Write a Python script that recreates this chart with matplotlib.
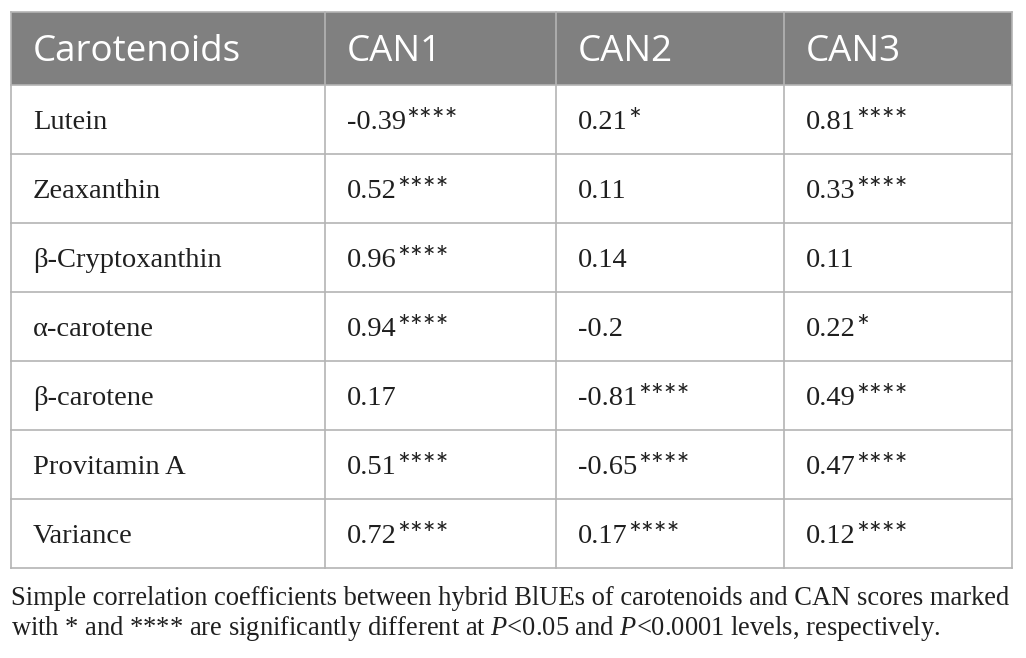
import matplotlib
matplotlib.use("Agg")
import matplotlib.pyplot as plt

plt.rcParams["mathtext.fontset"] = "custom"
plt.rcParams["mathtext.rm"] = "Liberation Serif"
plt.rcParams["mathtext.it"] = "Liberation Serif:italic"

header = ["Carotenoids", "CAN1", "CAN2", "CAN3"]
carotenoids = ["Lutein", "Zeaxanthin", "β-Cryptoxanthin", "α-carotene",
               "β-carotene", "Provitamin A", "Variance"]
can1 = ["-0.39", "0.52", "0.96", "0.94", "0.17", "0.51", "0.72"]
can1_sig = ["****", "****", "****", "****", "", "****", "****"]
can2 = ["0.21", "0.11", "0.14", "-0.2", "-0.81", "-0.65", "0.17"]
can2_sig = ["*", "", "", "", "****", "****", "****"]
can3 = ["0.81", "0.33", "0.11", "0.22", "0.49", "0.47", "0.12"]
can3_sig = ["****", "****", "", "*", "****", "****", "****"]
caption1 = "Simple correlation coefficients between hybrid BlUEs of carotenoids and CAN scores marked"
caption2 = r"with * and **** are significantly different at $\mathit{P}$<0.05 and $\mathit{P}$<0.0001 levels, respectively."

W, H = 1026, 658
fig = plt.figure(figsize=(W / 100, H / 100), dpi=100)
ax = fig.add_axes([0, 0, 1, 1])
ax.set_xlim(0, W)
ax.set_ylim(H, 0)
ax.axis("off")

left, right = 11, 1012
col_x = [left, 325, 556, 784, right]
top, head_bot = 12, 85
row_h = 69
n = len(carotenoids)
bottom = head_bot + n * row_h

grid = "#b4b4b4"
ax.add_patch(plt.Rectangle((left, top), right - left, head_bot - top,
                           facecolor="#808080", edgecolor="none", zorder=1))
for i in range(n + 1):
    y = head_bot + i * row_h
    ax.plot([left, right], [y, y], color=grid, lw=1.2, zorder=2)
ax.plot([left, right], [top, top], color=grid, lw=1.2, zorder=2)
for x in col_x:
    ax.plot([x, x], [top, bottom], color=grid, lw=1.2, zorder=2)

pad = 22
for j, h in enumerate(header):
    ax.text(col_x[j] + pad, 61, h, va="baseline", ha="left", zorder=3,
            family="Open Sans", size=26.5, color="white")

serif = "Liberation Serif"
bsize = 20.5
tcol = "#1f1f1f"
fig.canvas.draw()
r = fig.canvas.get_renderer()
inv = ax.transData.inverted()

cols = [(can1, can1_sig), (can2, can2_sig), (can3, can3_sig)]
for i in range(n):
    yb = head_bot + i * row_h + 44
    ax.text(col_x[0] + pad, yb, carotenoids[i], va="baseline", ha="left",
            family=serif, size=bsize, color=tcol, zorder=3)
    for j, (vals, sigs) in enumerate(cols):
        t = ax.text(col_x[j + 1] + pad, yb, vals[i], va="baseline", ha="left",
                    family=serif, size=bsize, color=tcol, zorder=3)
        if sigs[i]:
            bb = t.get_window_extent(renderer=r)
            x1 = inv.transform((bb.x1, bb.y1))[0]
            ax.text(x1 + 0.5, yb + 1, sigs[i], va="baseline", ha="left",
                    family="Lato", size=22, color=tcol, zorder=3)

# caption, sized to span the table width
csize = 18.5
c1 = ax.text(left, 605, caption1, va="baseline", ha="left", family=serif,
             size=csize, color=tcol)
bb = c1.get_window_extent(renderer=r)
csize = csize * (1002.0 / bb.width)
c1.set_fontsize(csize)
ax.text(left, 635, caption2, va="baseline", ha="left", family=serif,
        size=csize, color=tcol)

fig.savefig("out.png", dpi=100, facecolor="white")
